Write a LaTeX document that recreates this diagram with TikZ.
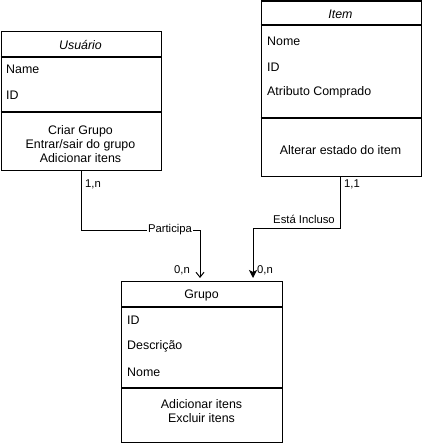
\documentclass[tikz,border=0pt]{standalone}
\usepackage{fontspec}
\setmainfont{Liberation Sans}
\usetikzlibrary{arrows.meta}
\begin{document}
\begin{tikzpicture}[x=1pt,y=-1pt,
  box/.style={draw, line width=1.1pt, rectangle, anchor=north west, inner sep=0pt},
  sep/.style={line width=1.1pt},
  attr/.style={anchor=west, font=\fontsize{12.4}{14}\selectfont, inner sep=0pt},
  meth/.style={align=center, font=\fontsize{12.4}{13.8}\selectfont, inner sep=0pt},
  ttl/.style={font=\fontsize{12.4}{14}\selectfont, inner sep=0pt},
  elabel/.style={font=\fontsize{11.3}{13}\selectfont, inner sep=1pt},
  conn/.style={line width=1pt}]
\useasboundingbox (0,0) rectangle (421,443);
% Usuario
\node[box, minimum width=160pt, minimum height=139pt] (usuario) at (0.5,31) {};
\draw[sep] (0.5,57) -- (160.5,57);
\draw[sep] (0.5,112) -- (160.5,112);
\node[ttl] (utitle) at (80.5,45) {\itshape Usuário};
\node[attr] (uname) at (6,69) {Name};
\node[attr] (uid) at (6,95) {ID};
\node[meth] (umeth) at (80.5,144) {Criar Grupo\\Entrar/sair do grupo\\Adicionar itens};
% Item
\node[box, minimum width=160pt, minimum height=175.5pt] (item) at (260.5,0.5) {};
\draw[sep] (260.5,25) -- (420.5,25);
\draw[sep] (260.5,118) -- (420.5,118);
\node[ttl] (ititle) at (340.5,14) {\itshape Item};
\node[attr] (inome) at (267,41) {Nome};
\node[attr] (iid) at (267,67) {ID};
\node[attr] (iattr) at (267,92) {Atributo Comprado};
\node[meth] (imeth) at (340.5,150) {Alterar estado do item};
% Grupo
\node[box, minimum width=161pt, minimum height=161pt] (grupo) at (121,281) {};
\draw[sep] (121,307) -- (282,307);
\draw[sep] (121,388) -- (282,388);
\node[ttl] (gtitle) at (201.5,295) {Grupo};
\node[attr] (gid) at (127,320) {ID};
\node[attr] (gdesc) at (127,346) {Descrição};
\node[attr] (gnome) at (127,372) {Nome};
\node[meth] (gmeth) at (201.5,411) {Adicionar itens\\Excluir itens};
% connectors
\coordinate (pa) at (81,230);
\coordinate (pb) at (200,230);
\coordinate (pc) at (340,228);
\coordinate (pd) at (253,228);
\draw[conn, -{Straight Barb[length=5pt,width=8pt]}, shorten >=3pt]
  (usuario.south -| pa) -- (pa) -- (pb) -- (grupo.north -| pb);
\draw[conn, -{Stealth[length=8pt,width=8pt,inset=2pt]}, shorten >=3pt]
  (item.south -| pc) -- (pc) -- (pd) -- (grupo.north -| pd);
\node[elabel, fill=white] (lpart) at (170,230) {Participa};
\node[elabel] (linc) at (304,219) {Está Incluso};
\node[elabel, anchor=west] (l1n) at (84,184) {1,n};
\node[elabel, anchor=west] (l11) at (343,184) {1,1};
\node[elabel, anchor=east] (l0na) at (191,270) {0,n};
\node[elabel, anchor=west] (l0nb) at (256,270) {0,n};
\end{tikzpicture}
\end{document}
